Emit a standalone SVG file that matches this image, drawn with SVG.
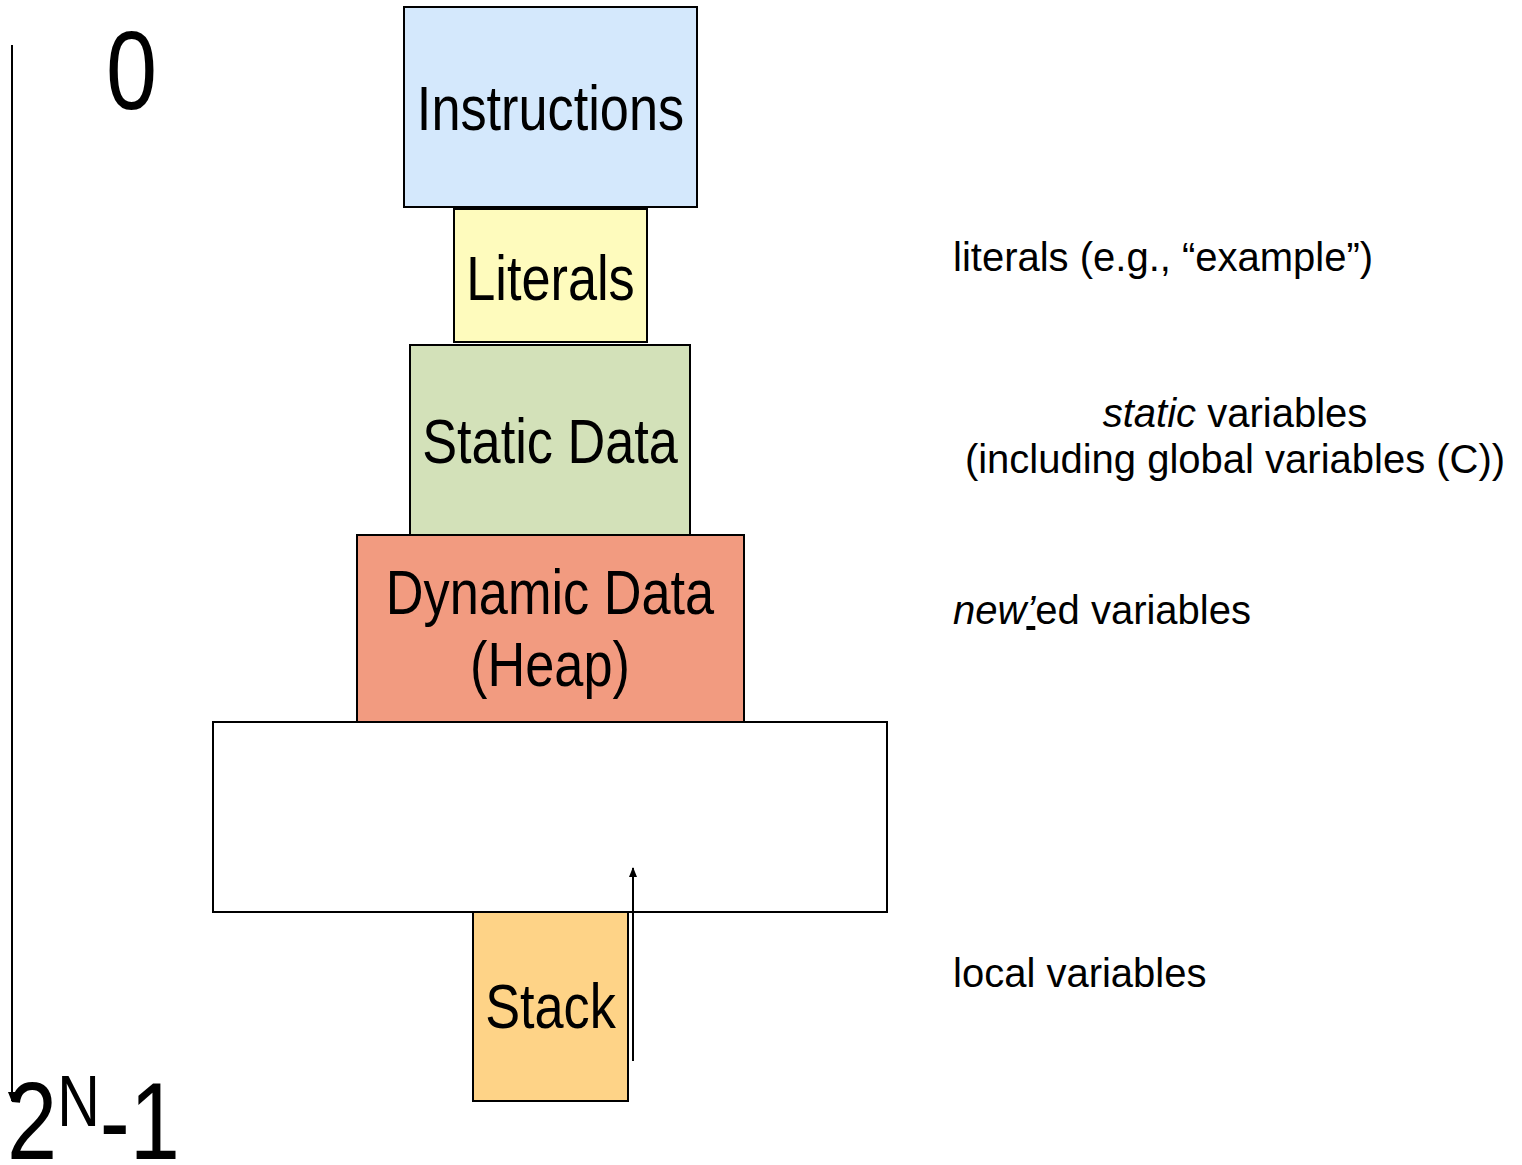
<svg xmlns="http://www.w3.org/2000/svg" width="1522" height="1165" viewBox="0 0 1522 1165">
  <defs>
    <style>
      .box { stroke: #000; stroke-width: 2; }
      .lbl { font-family: "Liberation Sans", Arial, sans-serif; font-size: 63px; fill: #000; text-anchor: middle; }
      .big { font-family: "Liberation Sans", Arial, sans-serif; fill: #000; }
      .note { font-family: "Liberation Sans", Arial, sans-serif; font-size: 40px; fill: #000; }
      .wire { stroke: #000; stroke-width: 2; fill: none; }
    </style>
    <marker id="head" markerWidth="10" markerHeight="10" refX="9" refY="5" orient="auto" markerUnits="userSpaceOnUse">
      <path d="M0,1 L10,5 L0,9 Z" fill="#000"/>
    </marker>
  </defs>
  <rect width="1522" height="1165" fill="#fff"/>

  <!-- address range labels (condensed by horizontal scaling) -->
  <g id="addr-low">
    <text class="big" transform="translate(106 109) scale(0.82 1)" font-size="112">0</text>
  </g>
  <g id="addr-high">
    <text class="big" transform="translate(7 1159) scale(0.82 1)" font-size="110">2<tspan font-size="72" dy="-33">N</tspan><tspan dy="33">-1</tspan></text>
  </g>

  <!-- memory segments -->
  <g id="instructions">
    <rect class="box" x="404" y="7" width="293" height="200" fill="#d4e8fc"/>
    <text class="lbl" transform="translate(550.5 130) scale(0.83 1)">Instructions</text>
  </g>
  <g id="literals">
    <rect class="box" x="454" y="209" width="193" height="133" fill="#fefbbd"/>
    <text class="lbl" transform="translate(550.5 300) scale(0.83 1)">Literals</text>
  </g>
  <g id="static-data">
    <rect class="box" x="410" y="345" width="280" height="190" fill="#d3e1b9"/>
    <text class="lbl" transform="translate(550 463) scale(0.83 1)">Static Data</text>
  </g>
  <g id="dynamic-data">
    <rect class="box" x="357" y="535" width="387" height="187" fill="#f29b80"/>
    <text class="lbl" transform="translate(550 614) scale(0.83 1)">Dynamic Data</text>
    <text class="lbl" transform="translate(550 686) scale(0.83 1)">(Heap)</text>
  </g>
  <g id="free-space">
    <rect class="box" x="213" y="722" width="674" height="190" fill="none"/>
  </g>
  <g id="stack">
    <rect class="box" x="473" y="912" width="155" height="189" fill="#fed387"/>
    <text class="lbl" transform="translate(550.5 1028) scale(0.83 1)">Stack</text>
  </g>

  <!-- segment descriptions -->
  <g id="note-literals">
    <text class="note" x="953" y="271">literals (e.g., “example”)</text>
  </g>
  <g id="note-static">
    <text class="note" x="1235" y="427" text-anchor="middle"><tspan font-style="italic">static</tspan> variables</text>
    <text class="note" x="1235" y="473" text-anchor="middle">(including global variables (C))</text>
  </g>
  <g id="note-heap">
    <text class="note" x="953" y="624"><tspan font-style="italic">new</tspan><tspan font-style="italic" text-decoration="underline">’</tspan>ed variables</text>
  </g>
  <g id="note-stack">
    <text class="note" x="953" y="987">local variables</text>
  </g>

  <!-- connectors -->
  <g id="connectors">
    <line class="wire" x1="12" y1="45" x2="12" y2="1101" marker-end="url(#head)"/>
    <line class="wire" x1="633" y1="1061" x2="633" y2="868" marker-end="url(#head)"/>
  </g>
</svg>
